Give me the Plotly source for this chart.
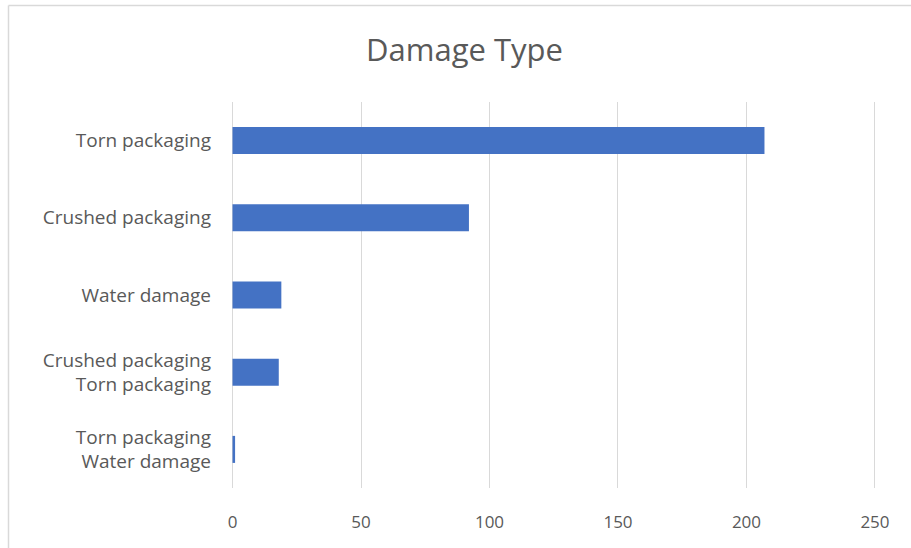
import plotly.graph_objects as go

categories = [
    "Torn packaging",
    "Crushed packaging",
    "Water damage",
    "Crushed packaging<br>Torn packaging",
    "Torn packaging<br>Water damage",
]
counts = [207, 92, 19, 18, 1]
x_ticks = [0, 50, 100, 150, 200, 250]

W, H = 911, 548
ML, MR, MT, MB = 232, 35, 102, 60
pw = W - ML - MR
ph = H - MT - MB

fig = go.Figure(go.Bar(
    y=categories, x=counts, orientation="h",
    marker=dict(color="#4472C4", line=dict(width=0)),
    hoverinfo="x+y",
))

txt = "#595959"
grid = "#D9D9D9"
fig.update_layout(
    width=W, height=H,
    margin=dict(l=ML, r=MR, t=MT, b=MB),
    paper_bgcolor="white", plot_bgcolor="white",
    bargap=0.65,
    showlegend=False,
    title=dict(text="Damage Type", x=464.5 / W, xref="container", xanchor="center",
               y=1 - 50 / H, yanchor="middle", yref="container",
               font=dict(family="Open Sans", size=31, color=txt)),
    font=dict(family="Open Sans", size=16, color=txt),
    xaxis=dict(range=[-0.2, 250.4], tickvals=x_ticks, showgrid=True,
               gridcolor=grid, gridwidth=1, zeroline=True,
               zerolinecolor=grid, zerolinewidth=1,
               showline=False, ticks="", ticklabelstandoff=22,
               tickfont=dict(size=17, color=txt), fixedrange=True),
    yaxis=dict(categoryorder="array", categoryarray=categories[::-1],
               showgrid=False, zeroline=False, showline=False, ticks="",
               ticklabelstandoff=20, tickfont=dict(size=19, color=txt),
               fixedrange=True),
)

# outer chart border (top and left edges visible in reference)
x_left = (8.5 - ML) / pw
y_top = 1 + (MT - 5.5) / ph
fig.add_shape(type="line", xref="paper", yref="paper",
              x0=x_left, x1=(W + 10 - ML) / pw, y0=y_top, y1=y_top,
              line=dict(color=grid, width=1.5))
fig.add_shape(type="line", xref="paper", yref="paper",
              x0=x_left, x1=x_left, y0=y_top, y1=-(MB + 10) / ph,
              line=dict(color=grid, width=1.5))

fig.write_html("out.html")
